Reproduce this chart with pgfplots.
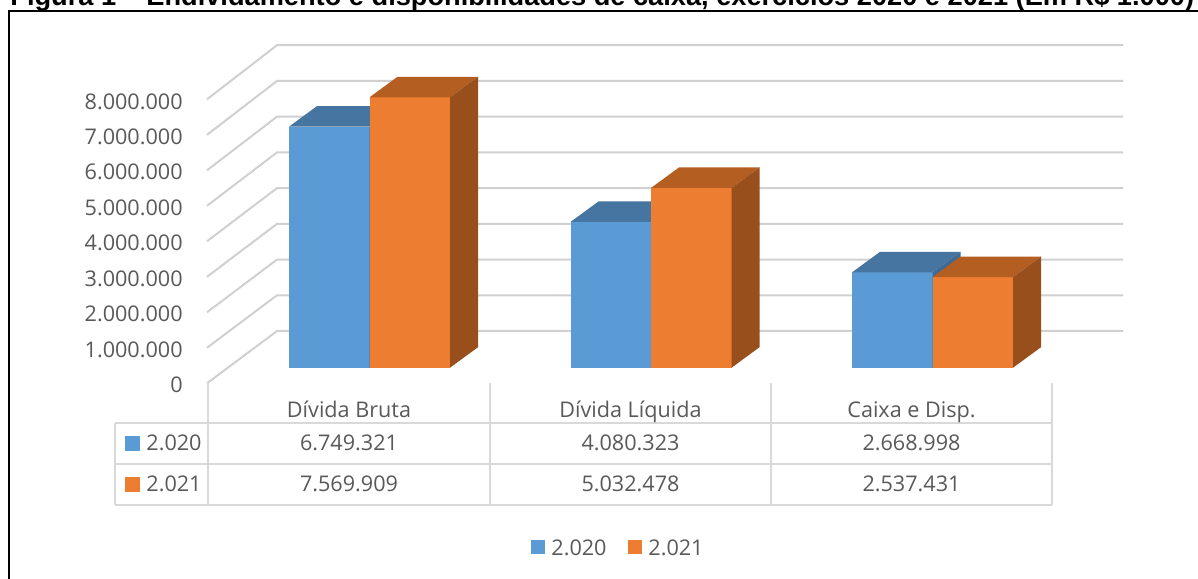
\documentclass[border=0pt]{standalone}
\usepackage{pgfplots}
\pgfplotsset{compat=1.18}
\usepackage{pgfplotstable}
\usepackage{fontspec}
\setmainfont{Open Sans}
\newfontfamily\titlefont{Liberation Sans}
\definecolor{txt}{HTML}{595959}
\definecolor{gridc}{HTML}{D0D0D0}
\definecolor{tabc}{HTML}{D9D9D9}
\definecolor{bfront}{HTML}{5B9BD5}
\definecolor{btop}{HTML}{4675A1}
\definecolor{bside}{HTML}{3E6A94}
\definecolor{ofront}{HTML}{ED7D31}
\definecolor{otop}{HTML}{B55E22}
\definecolor{oside}{HTML}{994F1C}

\pgfplotstableread{
idx y2020 y2021
0 6749321 7569909
1 4080323 5032478
2 2668998 2537431
}\datatable

% #1 left x (px), #2 value (millions), #3 front, #4 top, #5 side
\newcommand\drawbar[5]{%
  \edef\tmp{%
    \noexpand\addplot[fill=#3,draw=none,forget plot] coordinates {(#1,0) (\fpeval{#1+80.5},0) (\fpeval{#1+80.5},#2) (#1,#2)};
    \noexpand\addplot[fill=#4,draw=none,forget plot] coordinates {(#1,#2) (\fpeval{#1+80.5},#2) (\fpeval{#1+108.5},\fpeval{#2+0.574}) (\fpeval{#1+28},\fpeval{#2+0.574})};
    \noexpand\addplot[fill=#5,draw=none,forget plot] coordinates {(\fpeval{#1+80.5},0) (\fpeval{#1+108.5},0.574) (\fpeval{#1+108.5},\fpeval{#2+0.574}) (\fpeval{#1+80.5},#2)};
  }\tmp}

\begin{document}
\begin{tikzpicture}
\path[use as bounding box] (0,0) rectangle (599pt,289pt);
\clip (0,0) rectangle (599pt,289pt);
\begin{scope}[yshift=289pt,x=0.5pt,y=-0.5pt]
  % title (cut off at the top, as in the reference)
  \node[anchor=base west, inner sep=0pt, font=\titlefont\bfseries\fontsize{13.6pt}{16pt}\selectfont] at (10,6)
    {Figura 1 – Endividamento e disponibilidades de caixa, exercícios 2020 e 2021 (Em R\$ 1.000)};
  % frame
  \draw[line width=1pt] (9,600) -- (9,11) -- (1220,11);
  % walls and gridlines
  \foreach \k/\lab in {0/0,1/1.000.000,2/2.000.000,3/3.000.000,4/4.000.000,5/5.000.000,6/6.000.000,7/7.000.000,8/8.000.000} {
    \draw[gridc, line width=1pt, line join=round] (207,{383.3-35.5*\k}) -- (277,{331-35.72*\k}) -- (1123,{331-35.72*\k});
    \node[anchor=base east, inner sep=0pt, text=txt, font=\fontsize{10.8pt}{13pt}\selectfont] at (183,{392.7-35.46*\k}) {\lab};
  }
  % data table lines
  \begin{scope}[tabc, line width=0.75pt]
    \foreach \xx in {208,490,771,1052} \draw (\xx,383.3) -- (\xx,505);
    \foreach \yy in {423,464,505} \draw (115,\yy) -- (1052,\yy);
    \draw (115,423) -- (115,505);
  \end{scope}
  \begin{scope}[every node/.style={text=txt, inner sep=0pt, font=\fontsize{10.8pt}{13pt}\selectfont}]
    \node[anchor=base] at (349,418) {Dívida Bruta};
    \node[anchor=base] at (630.5,418) {Dívida Líquida};
    \node[anchor=base] at (911.5,418) {Caixa e Disp.};
    \node[anchor=base] at (349,451) {6.749.321};
    \node[anchor=base] at (630.5,451) {4.080.323};
    \node[anchor=base] at (911.5,451) {2.668.998};
    \node[anchor=base] at (349,492) {7.569.909};
    \node[anchor=base] at (630.5,492) {5.032.478};
    \node[anchor=base] at (911.5,492) {2.537.431};
    \fill[bfront] (125,436) rectangle (140,451);
    \fill[ofront] (125,477) rectangle (140,492);
    \node[anchor=base west] at (146,451) {2.020};
    \node[anchor=base west] at (146,492) {2.021};
    % legend
    \fill[bfront] (531,540) rectangle (545,554);
    \node[anchor=base west] at (551,555) {2.020};
    \fill[ofront] (628,540) rectangle (642,554);
    \node[anchor=base west] at (648,555) {2.021};
  \end{scope}
\end{scope}
\begin{axis}[at={(0pt,105.15pt)}, anchor=south west, scale only axis,
  width=599pt, height=178.6pt, xmin=0, xmax=1198, ymin=0, ymax=10,
  hide axis, clip=false]
  \pgfplotsforeachungrouped \i in {0,1,2}{%
    \pgfplotstablegetelem{\i}{y2020}\of\datatable
    \edef\va{\fpeval{\pgfplotsretval/1000000}}%
    \pgfplotstablegetelem{\i}{y2021}\of\datatable
    \edef\vb{\fpeval{\pgfplotsretval/1000000}}%
    \edef\xa{\fpeval{289+281.5*\i}}%
    \edef\xb{\fpeval{\xa+80.5}}%
    \drawbar{\xa}{\va}{bfront}{btop}{bside}%
    \drawbar{\xb}{\vb}{ofront}{otop}{oside}%
  }
\end{axis}
\end{tikzpicture}
\end{document}
